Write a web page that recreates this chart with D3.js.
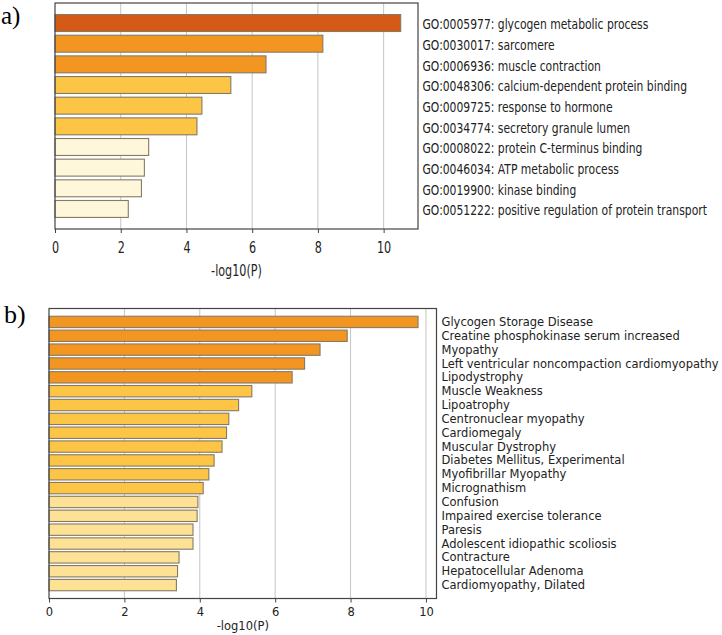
<!DOCTYPE html>
<html><head><meta charset="utf-8">
<script src="https://cdn.jsdelivr.net/npm/d3@7"></script>
<style>body{margin:0;background:#fff}svg{display:block}</style>
</head><body>
<svg id="c" width="722" height="635"></svg>
<script>
// ---- Data ----
const goTerms = [
  "GO:0005977: glycogen metabolic process",
  "GO:0030017: sarcomere",
  "GO:0006936: muscle contraction",
  "GO:0048306: calcium-dependent protein binding",
  "GO:0009725: response to hormone",
  "GO:0034774: secretory granule lumen",
  "GO:0008022: protein C-terminus binding",
  "GO:0046034: ATP metabolic process",
  "GO:0019900: kinase binding",
  "GO:0051222: positive regulation of protein transport"
];
const goValues = [10.52, 8.15, 6.42, 5.35, 4.47, 4.32, 2.85, 2.72, 2.63, 2.23];

const diseaseTerms = [
  "Glycogen Storage Disease",
  "Creatine phosphokinase serum increased",
  "Myopathy",
  "Left ventricular noncompaction cardiomyopathy",
  "Lipodystrophy",
  "Muscle Weakness",
  "Lipoatrophy",
  "Centronuclear myopathy",
  "Cardiomegaly",
  "Muscular Dystrophy",
  "Diabetes Mellitus, Experimental",
  "Myofibrillar Myopathy",
  "Micrognathism",
  "Confusion",
  "Impaired exercise tolerance",
  "Paresis",
  "Adolescent idiopathic scoliosis",
  "Contracture",
  "Hepatocellular Adenoma",
  "Cardiomyopathy, Dilated"
];
const diseaseValues = [9.79, 7.91, 7.19, 6.78, 6.45, 5.38, 5.03, 4.77, 4.71, 4.59,
  4.38, 4.24, 4.09, 3.95, 3.93, 3.82, 3.82, 3.45, 3.41, 3.38];

const xTicks = [0, 2, 4, 6, 8, 10];
const binEdges = [3, 4, 6, 10];
const binColors = ["#fff7d9", "#fde295", "#fcc545", "#f39621", "#d45a15"];
const xLabel = "-log10(P)";

// ---- Drawing ----
const svg = d3.select("#c");
const color = d3.scaleThreshold().domain(binEdges).range(binColors);

function panel(o) {
  const g = svg.append("g");
  const x = d3.scaleLinear().domain([0, d3.max(o.values) * 1.05]).range([o.left, o.right]);
  const y = d3.scaleBand().domain(o.terms).range([o.top, o.bottom]).paddingInner(0.18).paddingOuter(0.56);

  // grid
  g.append("g").selectAll("line").data(xTicks.filter(t => t > 0)).join("line")
    .attr("x1", d => x(d)).attr("x2", d => x(d))
    .attr("y1", o.top).attr("y2", o.bottom)
    .attr("stroke", "#c4c4c4").attr("stroke-width", 1);

  // bars
  g.append("g").selectAll("rect").data(o.terms).join("rect")
    .attr("x", x(0))
    .attr("y", d => y(d))
    .attr("width", (d, i) => x(o.values[i]) - x(0))
    .attr("height", y.bandwidth())
    .attr("fill", (d, i) => color(o.values[i]))
    .attr("stroke", "#857a66").attr("stroke-width", 1.1);

  // frame
  g.append("rect").attr("x", o.left).attr("y", o.top)
    .attr("width", o.right - o.left).attr("height", o.bottom - o.top)
    .attr("fill", "none").attr("stroke", "#444").attr("stroke-width", 1.2);

  // axis
  const ax = g.append("g").attr("transform", `translate(0,${o.bottom})`)
    .call(d3.axisBottom(x).tickValues(xTicks).tickFormat(d3.format("d")).tickSizeOuter(0).tickSize(4).tickPadding(o.tickPad));
  ax.select(".domain").remove();
  ax.selectAll("line").attr("stroke", "#444");
  ax.selectAll("text").attr("font-family", "DejaVu Sans").attr("font-size", o.tickFont)
    .attr("fill", "#222").attr("transform", `scale(${o.tsx},1)`);

  g.append("text")
    .attr("transform", `translate(${(o.left + o.right) / 2},${o.xlabY}) scale(${o.tsx},1)`)
    .attr("text-anchor", "middle").attr("font-family", "DejaVu Sans")
    .attr("font-size", o.tickFont).attr("fill", "#222").text(xLabel);

  // category labels
  g.append("g").selectAll("text").data(o.terms).join("text")
    .attr("transform", d => `translate(${o.labX},${y(d) + y.bandwidth() / 2 + o.labDy}) scale(${o.sx},1)`)
    .attr("dy", "0.35em")
    .attr("font-family", "DejaVu Sans").attr("font-size", o.labFont).attr("fill", "#222")
    .text(d => d);

  svg.append("text").attr("x", o.tagX).attr("y", o.tagY)
    .attr("font-family", "Liberation Serif").attr("font-size", o.tagFont).attr("fill", "#000")
    .text(o.tag);
}

panel({terms: goTerms, values: goValues, left: 55, right: 418, top: 3, bottom: 229,
  sx: 0.77, tsx: 0.7, tickFont: 16, tickPad: 9, xlabY: 276, labX: 422.5, labFont: 14, labDy: 1.5,
  tag: "a)", tagFont: 25, tagX: 1, tagY: 24});

panel({terms: diseaseTerms, values: diseaseValues, left: 49, right: 436.5, top: 308.5, bottom: 598.5,
  sx: 1, tsx: 1, tickFont: 11.5, tickPad: 5, xlabY: 630, labX: 441.5, labFont: 11.5, labDy: 0,
  tag: "b)", tagFont: 26, tagX: 4, tagY: 323});
</script>
</body></html>
